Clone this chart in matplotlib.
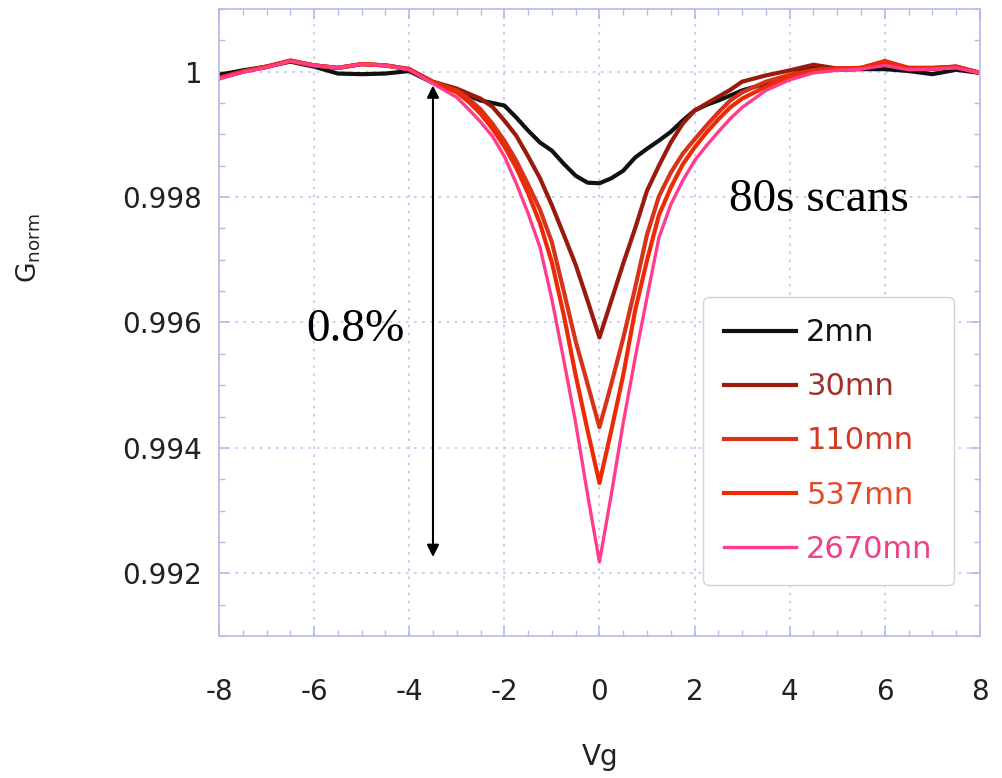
import matplotlib
matplotlib.use("Agg")
import matplotlib.pyplot as plt
from matplotlib.ticker import MultipleLocator

plt.rcParams['axes.unicode_minus'] = False

# gate voltage grid (V)
vg = [-8, -7.5, -7, -6.5, -6, -5.5, -5, -4.5, -4, -3.5, -3, -2.75, -2.5, -2.25, -2,
      -1.75, -1.5, -1.25, -1, -0.75, -0.5, -0.25, 0, 0.25, 0.5, 0.75, 1, 1.25, 1.5,
      1.75, 2, 2.25, 2.5, 2.75, 3, 3.5, 4, 4.5, 5, 5.5, 6, 6.5, 7, 7.5, 8]

g_2mn = [0.99995, 1.00002, 1.00008, 1.00016, 1.00008, 0.99997, 0.99996, 0.99997, 1.00001,
         0.99982, 0.99970, 0.99962, 0.99954, 0.99950, 0.99946, 0.99927, 0.99906, 0.99887,
         0.99874, 0.99853, 0.99834, 0.99823, 0.99822, 0.99830, 0.99842, 0.99863, 0.99877,
         0.99890, 0.99904, 0.99922, 0.99938, 0.99947, 0.99954, 0.99962, 0.99970, 0.99981,
         0.99994, 1.00008, 1.00003, 1.00004, 1.00004, 1.00001, 0.99996, 1.00003, 0.99998]

g_30mn = [0.99990, 1.00000, 1.00008, 1.00017, 1.00010, 1.00006, 1.00012, 1.00010, 1.00004,
          0.99984, 0.99973, 0.99965, 0.99957, 0.99944, 0.99922, 0.99898, 0.99865, 0.99830,
          0.99787, 0.99740, 0.99692, 0.99635, 0.99576, 0.99635, 0.99694, 0.99750, 0.99810,
          0.99850, 0.99887, 0.99917, 0.99938, 0.99949, 0.99960, 0.99971, 0.99984, 0.99994,
          1.00002, 1.00011, 1.00005, 1.00005, 1.00012, 1.00004, 1.00004, 1.00008, 0.99998]

g_110mn = [0.99990, 1.00000, 1.00007, 1.00017, 1.00010, 1.00006, 1.00012, 1.00010, 1.00004,
           0.99983, 0.99970, 0.99957, 0.99940, 0.99917, 0.99890, 0.99858, 0.99820, 0.99780,
           0.99728, 0.99650, 0.99570, 0.99502, 0.99433, 0.99502, 0.99575, 0.99655, 0.99740,
           0.99801, 0.99839, 0.99869, 0.99892, 0.99914, 0.99935, 0.99954, 0.99967, 0.99984,
           0.99995, 1.00003, 1.00005, 1.00006, 1.00016, 1.00006, 1.00006, 1.00008, 0.99998]

g_537mn = [0.99990, 1.00000, 1.00008, 1.00018, 1.00010, 1.00006, 1.00012, 1.00010, 1.00004,
           0.99983, 0.99967, 0.99952, 0.99933, 0.99909, 0.99881, 0.99847, 0.99806, 0.99758,
           0.99696, 0.99612, 0.99516, 0.99428, 0.99344, 0.99428, 0.99516, 0.99619, 0.99699,
           0.99771, 0.99815, 0.99852, 0.99879, 0.99903, 0.99924, 0.99943, 0.99957, 0.99976,
           0.99992, 1.00000, 1.00005, 1.00006, 1.00017, 1.00006, 1.00006, 1.00008, 0.99998]

g_2670mn = [0.99988, 0.99999, 1.00007, 1.00017, 1.00010, 1.00006, 1.00012, 1.00010, 1.00003,
            0.99981, 0.99959, 0.99940, 0.99920, 0.99897, 0.99865, 0.99822, 0.99774, 0.99720,
            0.99637, 0.99540, 0.99440, 0.99326, 0.99218, 0.99326, 0.99440, 0.99543, 0.99640,
            0.99735, 0.99788, 0.99826, 0.99858, 0.99882, 0.99904, 0.99925, 0.99943, 0.99970,
            0.99987, 0.99998, 1.00002, 1.00004, 1.00010, 1.00003, 1.00004, 1.00006, 0.99998]

labels = ["2mn", "30mn", "110mn", "537mn", "2670mn"]
series = [g_2mn, g_30mn, g_110mn, g_537mn, g_2670mn]
line_colors = ["#111111", "#9a1a0c", "#d8321a", "#ee2a06", "#ff3d8c"]
text_colors = ["#111111", "#a3302a", "#d23a22", "#e8482a", "#f0408a"]
widths = [3.0, 3.0, 3.0, 3.0, 2.4]

grid_blue = "#c5cbf3"
axis_blue = "#b3bbee"

fig = plt.figure(figsize=(10.03, 7.78), dpi=100)
ax = fig.add_axes([0.2183, 0.1825, 0.7587, 0.806])

for y, lab, col, lw in zip(series, labels, line_colors, widths):
    ax.plot(vg, y, color=col, lw=lw, label=lab, solid_joinstyle="round")

ax.set_xlim(-8, 8)
ax.set_ylim(0.991, 1.001)
ax.set_xticks([-8, -6, -4, -2, 0, 2, 4, 6, 8])
ax.set_yticks([0.992, 0.994, 0.996, 0.998, 1.0])
ax.set_yticklabels(["0.992", "0.994", "0.996", "0.998", "1"])
ax.xaxis.set_minor_locator(MultipleLocator(0.5))
ax.yaxis.set_minor_locator(MultipleLocator(0.0005))

ax.grid(True, which="major", color=grid_blue, linestyle=(0, (1.5, 3)), lw=1.3)
for s in ax.spines.values():
    s.set_color(axis_blue)
    s.set_linewidth(1.2)
ax.tick_params(which="both", direction="in", top=True, right=True, color=axis_blue)
ax.tick_params(which="major", length=7, width=1.2)
ax.tick_params(which="minor", length=4, width=1.0)
ax.tick_params(axis="y", which="major", labelsize=20, pad=12, labelcolor="#222222")
ax.tick_params(axis="x", which="major", labelsize=20, pad=30, labelcolor="#222222")

fig.text(29 / 1003, 1 - 248 / 778, r"G$_{\mathrm{norm}}$", rotation=90,
         ha="center", va="center", fontsize=19, color="#222222")
fig.text(600 / 1003, 1 - 757 / 778, "Vg", ha="center", va="center",
         fontsize=20, color="#222222")

# 0.8% arrow
ax.annotate("", xy=(-3.5, 0.99978), xytext=(-3.5, 0.99226),
            arrowprops=dict(arrowstyle="<|-|>", color="black", lw=1.5,
                            mutation_scale=18, shrinkA=0, shrinkB=0))
ax.text(-5.13, 0.99588, "0.8%", family="Liberation Serif", fontsize=34,
        ha="center", va="center")
ax.text(4.61, 0.99795, "80s scans", family="Liberation Serif", fontsize=34,
        ha="center", va="center")

leg = ax.legend(loc="upper left", bbox_to_anchor=(0.636, 0.5407), borderaxespad=0,
                fontsize=22, handlelength=2.35, handletextpad=0.33, labelspacing=0.82,
                borderpad=0.7, frameon=True, fancybox=True)
leg.get_frame().set_edgecolor("#d4d4d4")
leg.get_frame().set_linewidth(1.0)
leg.get_frame().set_alpha(1.0)
for t, c in zip(leg.get_texts(), text_colors):
    t.set_color(c)

fig.savefig("out.png", dpi=100)
